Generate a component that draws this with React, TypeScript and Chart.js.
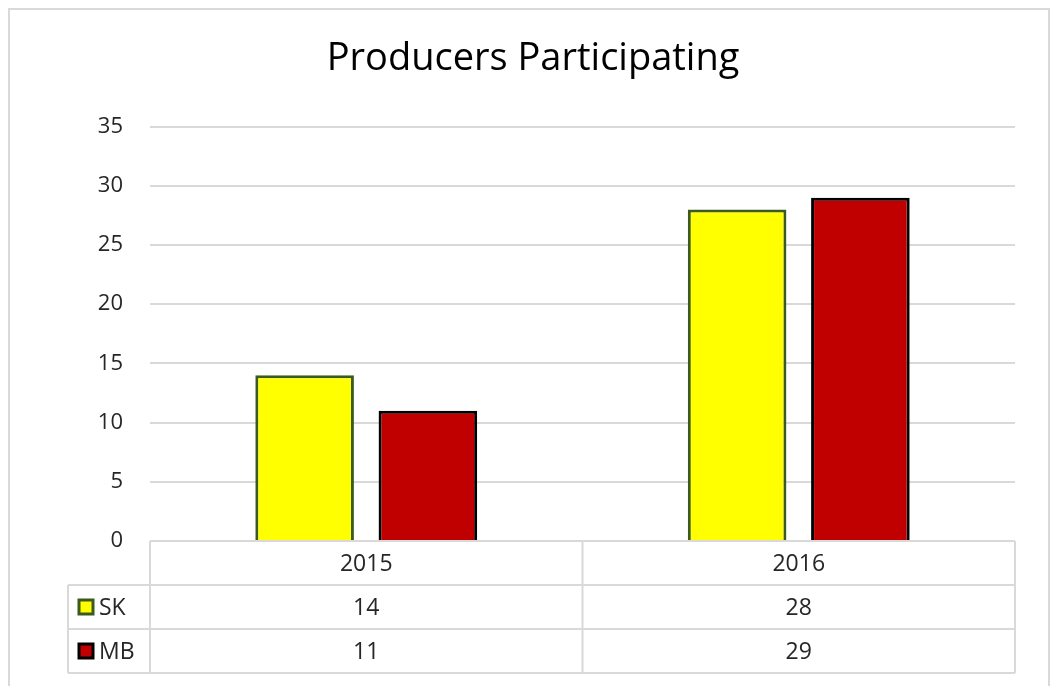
import React, { useEffect, useRef } from "react";
import { Chart, registerables } from "chart.js";

Chart.register(...registerables);

const title = "Producers Participating";
const categories = ["2015", "2016"];
const seriesNames = ["SK", "MB"];
const skValues = [14, 28];
const mbValues = [11, 29];
const yMin = 0;
const yMax = 35;
const yStep = 5;

const FONT = "'Open Sans', Lato, sans-serif";
const GRID = "#d9d9d9";
const TEXT = "#262626";
const fills = ["#ffff00", "#c00000"];
const borders = ["#3a5a1e", "#000000"];

const framePlugin = {
  id: "frame",
  beforeDraw(chart: any) {
    const ctx = chart.ctx;
    ctx.save();
    ctx.fillStyle = "#ffffff";
    ctx.fillRect(0, 0, chart.width, chart.height);
    ctx.strokeStyle = GRID;
    ctx.lineWidth = 2;
    ctx.strokeRect(9, 9, chart.width - 11, chart.height + 20);
    ctx.restore();
  },
};

const tablePlugin = {
  id: "dataTable",
  afterDraw(chart: any) {
    const ctx = chart.ctx;
    const xs = chart.scales.x;
    const area = chart.chartArea;
    const n = categories.length;
    const catW = (area.right - area.left) / n;
    const rowH = 44;
    const top = area.bottom;
    const legendLeft = area.left - 82;
    const rows = [skValues, mbValues];

    ctx.save();
    ctx.strokeStyle = GRID;
    ctx.lineWidth = 2;
    const line = (x1: number, y1: number, x2: number, y2: number) => {
      ctx.beginPath();
      ctx.moveTo(x1, y1);
      ctx.lineTo(x2, y2);
      ctx.stroke();
    };
    line(area.left, top, area.right, top);
    for (let r = 1; r <= rows.length + 1; r++) {
      line(legendLeft, top + r * rowH, area.right, top + r * rowH);
    }
    line(area.left, top, area.left, top + (rows.length + 1) * rowH);
    line(legendLeft, top + rowH, legendLeft, top + (rows.length + 1) * rowH);
    for (let i = 0; i < n; i++) {
      const xr = xs.getPixelForValue(i) + catW / 2;
      line(xr, top, xr, top + (rows.length + 1) * rowH);
    }

    ctx.fillStyle = TEXT;
    ctx.font = `23px ${FONT}`;
    ctx.textAlign = "center";
    ctx.textBaseline = "middle";
    for (let i = 0; i < n; i++) {
      const cx = xs.getPixelForValue(i);
      ctx.fillText(categories[i], cx, top + rowH / 2 + 1);
      rows.forEach((vals, r) => {
        ctx.fillText(String(vals[i]), cx, top + (r + 1.5) * rowH + 1);
      });
    }

    rows.forEach((_, r) => {
      const cy = top + (r + 1.5) * rowH;
      const sx = legendLeft + 11;
      const s = 14;
      ctx.fillStyle = fills[r];
      ctx.fillRect(sx, cy - s / 2, s, s);
      ctx.strokeStyle = borders[r];
      ctx.lineWidth = 3;
      ctx.strokeRect(sx, cy - s / 2, s, s);
      ctx.fillStyle = TEXT;
      ctx.textAlign = "left";
      ctx.fillText(seriesNames[r], sx + s + 6, cy + 1);
    });
    ctx.restore();
  },
};

export default function App() {
  const ref = useRef<HTMLCanvasElement | null>(null);

  useEffect(() => {
    if (!ref.current) return;
    const chart = new Chart(ref.current, {
      type: "bar",
      data: {
        labels: categories,
        datasets: [
          {
            label: seriesNames[0],
            data: skValues,
            backgroundColor: fills[0],
            borderColor: borders[0],
            borderWidth: 3,
            categoryPercentage: 0.57,
            barPercentage: 0.8,
          },
          {
            label: seriesNames[1],
            data: mbValues,
            backgroundColor: fills[1],
            borderColor: borders[1],
            borderWidth: 3,
            categoryPercentage: 0.57,
            barPercentage: 0.8,
          },
        ],
      },
      options: {
        animation: false,
        responsive: false,
        maintainAspectRatio: false,
        layout: { padding: { left: 51, right: 36, top: 0, bottom: 145 } },
        plugins: {
          legend: { display: false },
          tooltip: { enabled: false },
          title: {
            display: true,
            text: title,
            color: "#000000",
            font: { family: FONT, size: 38, weight: "normal" },
            padding: { top: 36, bottom: 45 },
          },
        },
        scales: {
          x: { display: false },
          y: {
            min: yMin,
            max: yMax,
            ticks: {
              stepSize: yStep,
              color: TEXT,
              font: { family: FONT, size: 22 },
              padding: 27,
            },
            grid: { color: GRID, lineWidth: 2, drawTicks: false },
            border: { display: false },
            afterFit(scale: any) {
              scale.width = 99;
            },
          },
        },
      },
      plugins: [framePlugin, tablePlugin],
    });
    return () => chart.destroy();
  }, []);

  return (
    <div style={{ position: "fixed", left: 0, top: 0, width: 1051, height: 686 }}>
      <canvas ref={ref} width={1051} height={686} style={{ display: "block", width: 1051, height: 686 }} />
    </div>
  );
}
